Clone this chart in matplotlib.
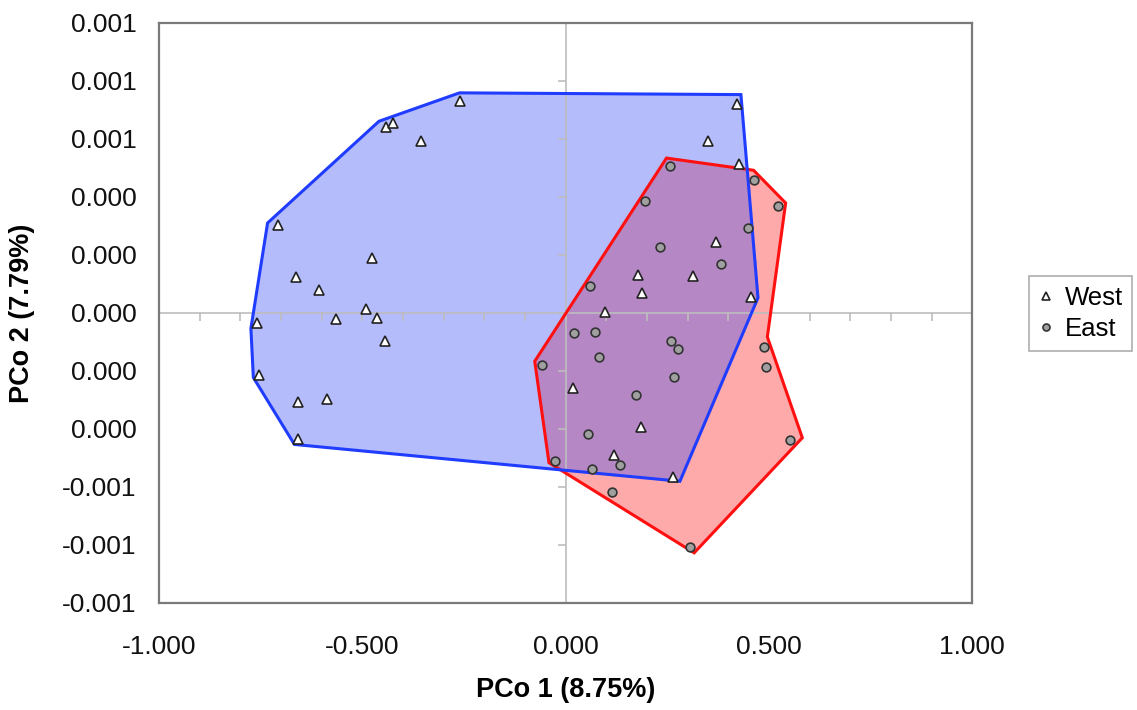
import matplotlib
matplotlib.use('Agg')
import matplotlib.pyplot as plt
import matplotlib.markers as mmarkers
import numpy as np
from matplotlib.patches import Polygon

plt.rcParams['font.family'] = ['Liberation Sans', 'DejaVu Sans']

# ---- data (PCo1, PCo2 x 1e-3) ----
west_x = [-0.261, -0.442, -0.425, -0.355, -0.708, -0.475, -0.663, -0.606, -0.491,
          -0.564, -0.463, -0.759, -0.445, -0.755, -0.657, -0.588, -0.657, 0.017,
          0.421, 0.351, 0.427, 0.370, 0.178, 0.312, 0.187, 0.455, 0.096, 0.186,
          0.119, 0.264]
west_y_e3 = [0.730, 0.640, 0.655, 0.593, 0.302, 0.188, 0.124, 0.078, 0.012,
             -0.021, -0.018, -0.034, -0.098, -0.214, -0.307, -0.298, -0.436, -0.259,
             0.722, 0.593, 0.512, 0.244, 0.130, 0.126, 0.068, 0.056, 0.003, -0.394,
             -0.491, -0.566]

east_x = [0.257, 0.463, 0.522, 0.194, 0.449, 0.231, 0.382, 0.059, 0.021, 0.071,
          0.259, 0.277, 0.081, -0.059, 0.266, 0.173, 0.487, 0.492, 0.055, 0.551,
          0.134, 0.064, -0.026, 0.114, 0.306]
east_y_e3 = [0.506, 0.460, 0.368, 0.385, 0.294, 0.227, 0.167, 0.093, -0.070, -0.066,
             -0.098, -0.123, -0.153, -0.179, -0.221, -0.284, -0.119, -0.187, -0.418,
             -0.439, -0.526, -0.539, -0.511, -0.619, -0.809]

# hull outlines
west_hull_x = [-0.261, 0.431, 0.473, 0.281, -0.667, -0.768, -0.774, -0.733, -0.459]
west_hull_y_e3 = [0.759, 0.753, 0.052, -0.581, -0.454, -0.223, -0.054, 0.310, 0.661]
east_hull_x = [0.248, 0.462, 0.541, 0.496, 0.582, 0.316, -0.041, -0.076]
east_hull_y_e3 = [0.534, 0.492, 0.379, -0.083, -0.431, -0.828, -0.517, -0.167]

x_ticks = [-1.0, -0.5, 0.0, 0.5, 1.0]
x_tick_labels = ['-1.000', '-0.500', '0.000', '0.500', '1.000']
y_ticks = [-0.001, -0.0008, -0.0006, -0.0004, -0.0002, 0.0, 0.0002, 0.0004, 0.0006, 0.0008, 0.001]
y_tick_labels = ['-0.001', '-0.001', '-0.001', '0.000', '0.000', '0.000',
                 '0.000', '0.000', '0.001', '0.001', '0.001']
x_minor = np.round(np.arange(-1.0, 1.0001, 0.1), 3)

series_names = ['West', 'East']

west_y = np.array(west_y_e3) * 1e-3
east_y = np.array(east_y_e3) * 1e-3
wh = np.column_stack([west_hull_x, np.array(west_hull_y_e3) * 1e-3])
eh = np.column_stack([east_hull_x, np.array(east_hull_y_e3) * 1e-3])

W, H = 1137, 710
fig = plt.figure(figsize=(W / 100, H / 100), dpi=100)
L, R, T, B = 159, 972.3, 23, 602.7
ax = fig.add_axes([L / W, 1 - B / H, (R - L) / W, (B - T) / H])
ax.set_xlim(-1, 1)
ax.set_ylim(-0.001, 0.001)

blue_fill = '#b4bcfb'
red_fill = '#ffaaaa'
purple_fill = '#b587c5'

p_blue = Polygon(wh, closed=True, facecolor=blue_fill, edgecolor='none', zorder=1)
p_red = Polygon(eh, closed=True, facecolor=red_fill, edgecolor='none', zorder=1)
ax.add_patch(p_blue)
ax.add_patch(p_red)
p_overlap = Polygon(eh, closed=True, facecolor=purple_fill, edgecolor='none', zorder=1.5)
ax.add_patch(p_overlap)
p_overlap.set_clip_path(p_blue)

# zero axes with ticks
ax.axhline(0, color='#bdbdbd', lw=1.2, zorder=2)
ax.axvline(0, color='#bdbdbd', lw=1.2, zorder=2)
ax.plot(x_minor, np.zeros_like(x_minor), linestyle='none', marker=mmarkers.TICKDOWN,
        markersize=6, markeredgewidth=1.2, color='#bdbdbd', zorder=2, clip_on=False)
ax.plot(np.zeros(len(y_ticks)), y_ticks, linestyle='none', marker=mmarkers.TICKLEFT,
        markersize=6, markeredgewidth=1.2, color='#bdbdbd', zorder=2, clip_on=False)

# hull edges
ax.add_patch(Polygon(eh, closed=True, facecolor='none', edgecolor='#ff1010', lw=2.2,
                     joinstyle='miter', zorder=3))
ax.add_patch(Polygon(wh, closed=True, facecolor='none', edgecolor='#1f3cff', lw=2.2,
                     joinstyle='miter', zorder=3))

# points
ax.plot(west_x, west_y, linestyle='none', marker='^', markersize=6.5,
        markerfacecolor='white', markeredgecolor='#222222', markeredgewidth=1.2,
        label=series_names[0], zorder=4)
ax.plot(east_x, east_y, linestyle='none', marker='o', markersize=6.3,
        markerfacecolor='#a0a0a0', markeredgecolor='#333333', markeredgewidth=1.2,
        label=series_names[1], zorder=4)

ax.set_xticks(x_ticks)
ax.set_xticklabels(x_tick_labels)
ax.set_yticks(y_ticks)
ax.set_yticklabels(y_tick_labels)
ax.tick_params(axis='both', length=0, labelsize=19, colors='#111111')
ax.tick_params(axis='y', pad=16)
ax.tick_params(axis='x', pad=23)
for s in ax.spines.values():
    s.set_color('#7a7a7a')
    s.set_linewidth(1.6)
    s.set_zorder(5)

ax.set_xlabel('PCo 1 (8.75%)', fontsize=19.5, fontweight='bold', va='center')
ax.xaxis.set_label_coords(0.5, (B - 690) / (B - T))
ax.set_ylabel('PCo 2 (7.79%)', fontsize=19.5, fontweight='bold', va='center')
ax.yaxis.set_label_coords((22 - L) / (R - L), 0.5)

leg = fig.legend(loc='center left', bbox_to_anchor=(1029 / W, 1 - 313.5 / H),
                 frameon=True, fancybox=False, fontsize=18.5, markerscale=0.8,
                 handlelength=0.6, handletextpad=0.4, borderpad=0.38,
                 borderaxespad=0, labelspacing=0.3)
leg.get_frame().set_edgecolor('#9a9a9a')
leg.get_frame().set_linewidth(1.2)

fig.savefig('out.png', dpi=100)
